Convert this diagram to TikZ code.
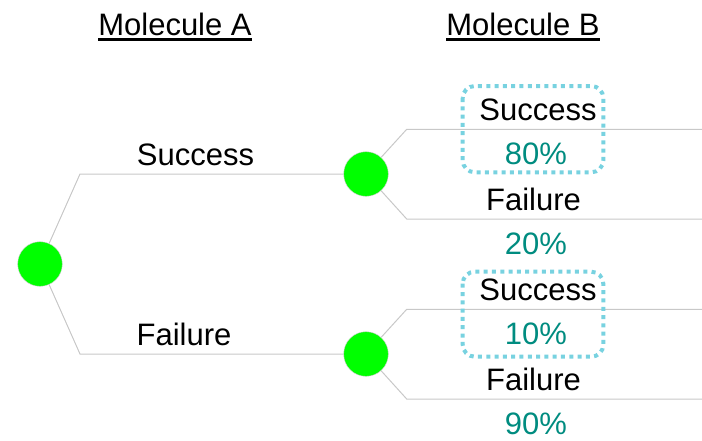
\documentclass[tikz,border=0pt]{standalone}
\usepackage{fontspec}
\setmainfont{Liberation Sans}
\usetikzlibrary{positioning, calc}

\definecolor{nodegreen}{RGB}{0,255,0}
\definecolor{probteal}{RGB}{0,140,128}
\definecolor{boxcyan}{RGB}{120,210,224}
\definecolor{branchgray}{RGB}{200,200,200}

\begin{document}
\begin{tikzpicture}[
            x=1pt, y=-1pt,
            chance/.style={circle, fill=nodegreen, draw=black!20, line width=0.4pt, minimum size=44.6pt, inner sep=0pt},
            branch/.style={branchgray, line width=1pt},
            lbl/.style={anchor=base, inner sep=0pt, font=\fontsize{31}{36}\selectfont},
            prob/.style={lbl, text=probteal},
            head/.style={lbl},
            hilite/.style={boxcyan, line width=4pt, dash pattern=on 4pt off 4.3pt, rounded corners=12pt}
        ]
            \useasboundingbox (0,0) rectangle (702,440);

            % --- chance nodes ---
            \node[chance] (root) at (40,264) {};
            \node[chance] (upA) at (366,174) {};
            \node[chance] (loA) at (366,354) {};

            \coordinate (ca1) at (80,174);
            \coordinate (ca2) at (80,354);
            \coordinate (cb1) at (406.7,129.3);
            \coordinate (cb2) at (406.7,219);
            \coordinate (cb3) at (406.7,309.3);
            \coordinate (cb4) at (406.7,399);
            \coordinate (eb1) at (702,129.3);
            \coordinate (eb2) at (702,219);
            \coordinate (eb3) at (702,309.3);
            \coordinate (eb4) at (702,399);

            % --- branches ---
            \draw[branch] (root) -- (ca1) -- (upA);
            \draw[branch] (root) -- (ca2) -- (loA);
            \draw[branch] (upA) -- (cb1) -- (eb1);
            \draw[branch] (upA) -- (cb2) -- (eb2);
            \draw[branch] (loA) -- (cb3) -- (eb3);
            \draw[branch] (loA) -- (cb4) -- (eb4);

            % --- headings ---
            \node[head] (molA) at (175,35) {Molecule A};
            \node[head] (molB) at (523,35) {Molecule B};
            \draw[line width=2.6pt] ($(molA.base west)+(0,4.5)$) -- ($(molA.base east)+(0,4.5)$);
            \draw[line width=2.6pt] ($(molB.base west)+(0,4.5)$) -- ($(molB.base east)+(0,4.5)$);

            % --- labels ---
            \node[lbl] (sA) at (195.5,165) {Success};
            \node[lbl] (fA) at (184,345) {Failure};

            \node[lbl] (sB1) at (538,120) {Success};
            \node[prob] (pB1) at (536,164.3) {80\%};
            \node[lbl] (fB1) at (533.5,210) {Failure};
            \node[prob] (pB2) at (536,254) {20\%};
            \node[lbl] (sB2) at (538,300) {Success};
            \node[prob] (pB3) at (536,344.3) {10\%};
            \node[lbl] (fB2) at (533.5,390) {Failure};
            \node[prob] (pB4) at (536,434) {90\%};

            % --- highlight boxes ---
            \draw[hilite] (462.7,86) rectangle (603.3,172.3);
            \draw[hilite] (462.7,271.7) rectangle (603.3,356.7);

        \end{tikzpicture}
\end{document}
